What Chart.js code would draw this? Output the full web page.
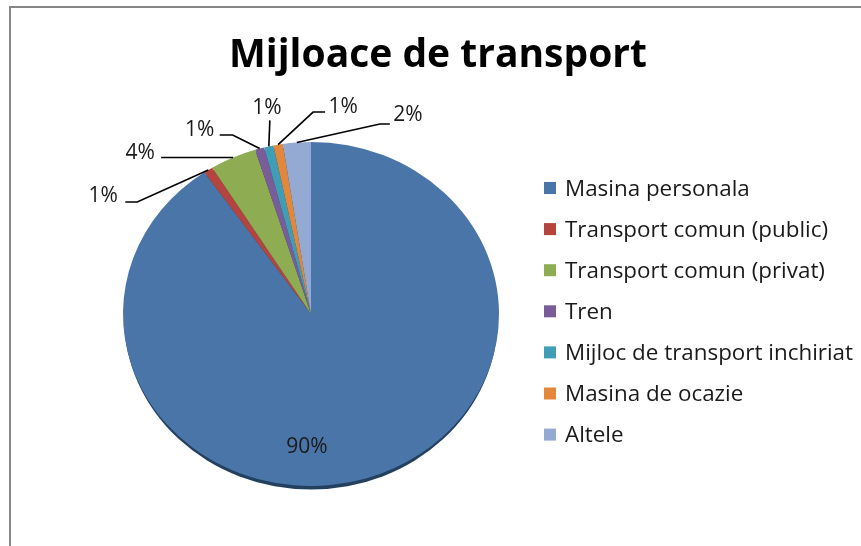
<!DOCTYPE html>
<html><head><meta charset="utf-8">
<script src="https://cdn.jsdelivr.net/npm/chart.js@4.4.1/dist/chart.umd.min.js"></script>
<style>
html,body{margin:0;padding:0;background:#fff;}
#wrap{position:relative;width:861px;height:546px;overflow:hidden;background:#fff;}
#frame{position:absolute;left:9px;top:6px;width:900px;height:600px;border-top:2px solid #878787;border-left:2px solid #878787;box-sizing:border-box;}
canvas{position:absolute;left:0;top:0;}
</style></head><body>
<div id="wrap"><div id="frame"></div><canvas id="c" width="861" height="546"></canvas></div>
<script>
const chartTitle = 'Mijloace de transport';
const categories = ['Masina personala','Transport comun (public)','Transport comun (privat)','Tren','Mijloc de transport inchiriat','Masina de ocazie','Altele'];
const shares = [90.4, 0.8, 4.0, 0.8, 0.8, 0.8, 2.4];
const sliceColors = ['#4a75a8','#b5443f','#8eac52','#795c98','#3f9db5','#e3873a','#94aad2'];

const TILT = 172/188;
// callout geometry per slice: elbow offset from rim anchor, end offset from elbow, text offset from end
const callouts = [
  null,
  {elbow:[-71,32], end:[-12,0], text:[-22,-6]},
  {elbow:[0,0], end:[-72,0], text:[-21,-4]},
  {elbow:[-27,-13.5], end:[-13,0], text:[-20,-5]},
  {elbow:[1,-26], end:[0,0], text:[-3,-12.5]},
  {elbow:[35,-32.6], end:[12,0], text:[18,-5.5]},
  {elbow:[83,-18.5], end:[10,0], text:[18,-8.5]}
];
const insideLabelOffset = [-4,133];

const total = shares.reduce((a,b)=>a+b,0);
const pctText = v => Math.round(v/total*100) + '%';

const decor = {
  id:'decor',
  beforeDatasetsDraw(chart){
    const ctx = chart.ctx;
    const a0 = chart.getDatasetMeta(0).data[0];
    const cx = a0.x, cy = a0.y, r = a0.outerRadius;
    ctx.save();
    ctx.beginPath();
    ctx.ellipse(cx, cy+3.5, r-1, r*TILT, 0, 0, Math.PI*2);
    ctx.fillStyle = '#24405f';
    ctx.fill();
    ctx.restore();
    ctx.save();
    ctx.translate(cx, cy);
    ctx.scale(1, TILT);
    ctx.translate(-cx, -cy);
  },
  afterDatasetsDraw(chart){
    const ctx = chart.ctx;
    ctx.restore();
    const meta = chart.getDatasetMeta(0);
    const a0 = meta.data[0];
    const cx = a0.x, cy = a0.y, r = a0.outerRadius;
    ctx.save();
    ctx.font = '21px "Open Sans"';
    ctx.fillStyle = '#1a1a1a';
    ctx.textAlign = 'center';
    ctx.textBaseline = 'middle';
    ctx.strokeStyle = '#000';
    ctx.lineWidth = 1.6;
    meta.data.forEach((arc, i) => {
      const txt = pctText(shares[i]);
      const c = callouts[i];
      if (!c) {
        ctx.fillText(txt, cx + insideLabelOffset[0], cy + insideLabelOffset[1]);
        return;
      }
      const mid = (arc.startAngle + arc.endAngle)/2;
      const ax = cx + r*Math.cos(mid), ay = cy + r*Math.sin(mid)*TILT;
      const ex = ax + c.elbow[0], ey = ay + c.elbow[1];
      const tx = ex + c.end[0], ty = ey + c.end[1];
      ctx.beginPath();
      ctx.moveTo(ax, ay); ctx.lineTo(ex, ey); ctx.lineTo(tx, ty);
      ctx.stroke();
      ctx.fillText(txt, tx + c.text[0], ty + c.text[1]);
    });
    ctx.restore();

    // title
    ctx.save();
    ctx.font = 'bold 39px "Open Sans"';
    ctx.fillStyle = '#000';
    ctx.textAlign = 'center';
    ctx.textBaseline = 'alphabetic';
    ctx.fillText(chartTitle, 438, 67);
    ctx.restore();

    // legend
    ctx.save();
    ctx.font = '22.4px "Open Sans"';
    ctx.textAlign = 'left';
    ctx.textBaseline = 'alphabetic';
    categories.forEach((name, i) => {
      const yc = 188 + i*41.1;
      ctx.fillStyle = sliceColors[i];
      ctx.fillRect(544, yc-6, 12, 12);
      ctx.fillStyle = '#1a1a1a';
      ctx.fillText(name, 565, yc+7.5);
    });
    ctx.restore();
  }
};

new Chart(document.getElementById('c'), {
  type:'pie',
  data:{
    labels: categories,
    datasets:[{data: shares, backgroundColor: sliceColors, borderWidth:0, hoverOffset:0}]
  },
  options:{
    responsive:false,
    animation:false,
    events:[],
    devicePixelRatio:1,
    layout:{padding:{left:123, right:362, top:126, bottom:44}},
    plugins:{legend:{display:false}, title:{display:false}, tooltip:{enabled:false}}
  },
  plugins:[decor]
});
</script>
</body></html>
